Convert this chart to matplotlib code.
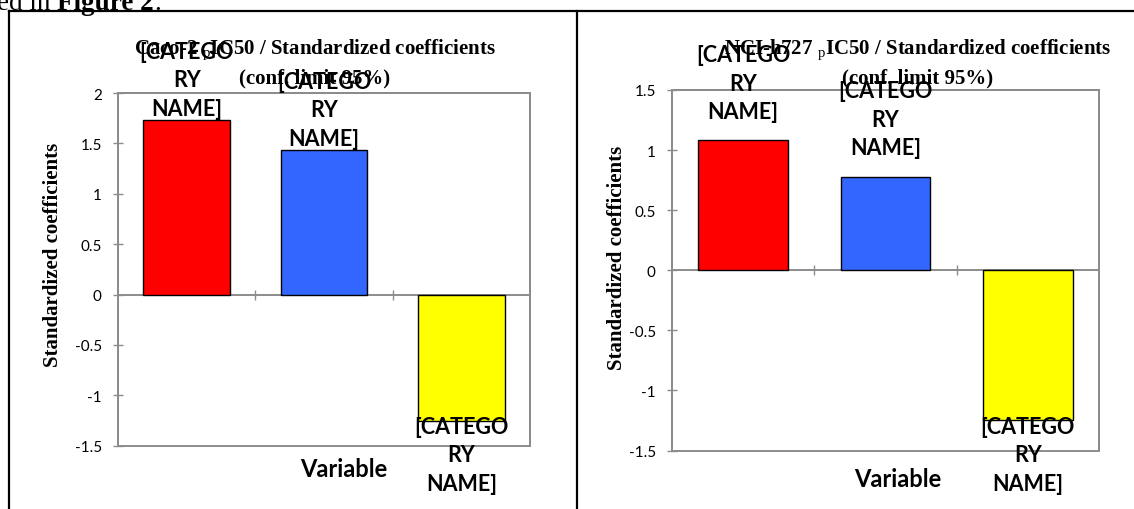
import matplotlib
matplotlib.use("Agg")
import matplotlib.pyplot as plt
from matplotlib.lines import Line2D
from matplotlib.patches import Rectangle
from matplotlib.text import Annotation

# Data
bar_labels = ["[CATEGO\nRY\nNAME]"] * 3
caco2_coef = [1.73, 1.43, -1.25]
nci_coef = [1.08, 0.78, -1.25]
bar_colors = ["#FF0000", "#3366FF", "#FFFF00"]
caco2_ticks = [-1.5, -1, -0.5, 0, 0.5, 1, 1.5, 2]
nci_ticks = [-1.5, -1, -0.5, 0, 0.5, 1, 1.5]

plt.rcParams["mathtext.fontset"] = "custom"
plt.rcParams["mathtext.rm"] = "Liberation Serif"

W, H = 1134, 510
fig = plt.figure(figsize=(W / 100, H / 100), dpi=100)

def fx(px): return px / W
def fy(py): return 1 - py / H

GRAY = "#8C8C8C"
SERIF = "Liberation Serif"
SANS = "Lato"

# page text cut at the top, then the table borders
t1 = fig.text(fx(-3), fy(10), "ed in ", family=SERIF, fontsize=19.5, va="baseline")
t2 = Annotation("Figure 2", xy=(1, 0), xycoords=t1, va="bottom", ha="left",
                family=SERIF, fontsize=19.5, weight="bold", annotation_clip=False)
fig.add_artist(t2)
fig.add_artist(Annotation(".", xy=(1, 0), xycoords=t2, va="bottom", ha="left",
                          family=SERIF, fontsize=19.5, annotation_clip=False))

for xs, ys in [([9, W], [12, 12]), ([9, 9], [12, H]), ([577, 577], [12, H])]:
    fig.add_artist(Line2D([fx(x) for x in xs], [fy(y) for y in ys],
                          color="black", lw=1.6, transform=fig.transFigure))


def draw_panel(rect, values, ylim, yticks, pad_up, title_l1, title_xy, ylab_xy, var_xy):
    ax = fig.add_axes(rect)
    x = range(len(values))
    ax.bar(x, values, width=0.63, color=bar_colors, edgecolor="black", linewidth=1, zorder=3)
    ax.set_xlim(-0.5, 2.5)
    ax.set_ylim(*ylim)
    ax.set_yticks(yticks)
    ax.set_yticklabels([f"{t:g}" for t in yticks], family=SANS, fontsize=11)
    ax.set_xticks([0.5, 1.5])
    ax.set_xticklabels([])
    ax.tick_params(axis="both", direction="inout", length=6.5, width=1, color=GRAY, pad=8.5)
    ax.spines["bottom"].set_position(("data", 0))
    for s in ax.spines.values():
        s.set_color(GRAY)
        s.set_linewidth(1.4)
    ax.add_patch(Rectangle((0, 0), 1, 1, transform=ax.transAxes, fill=False,
                           edgecolor=GRAY, lw=1.4, clip_on=False, zorder=1))

    for i, v in enumerate(values):
        if v >= 0:
            ax.annotate(bar_labels[i], xy=(i, v), xytext=(0, pad_up), textcoords="offset points",
                        ha="center", va="bottom", family=SANS, fontsize=15.5, weight="bold",
                        linespacing=1.45, zorder=5, annotation_clip=False)
        else:
            ax.annotate(bar_labels[i], xy=(i, v), xytext=(0, 3.5), textcoords="offset points",
                        ha="center", va="top", family=SANS, fontsize=15.5, weight="bold",
                        linespacing=1.45, zorder=5, annotation_clip=False)

    fig.text(fx(title_xy[0]), fy(title_xy[1]), title_l1 + "\n(conf. limit 95%)",
             ha="center", va="center", family=SERIF, fontsize=15, weight="bold",
             linespacing=1.35)
    fig.text(fx(ylab_xy[0]), fy(ylab_xy[1]), "Standardized coefficients", rotation=90,
             ha="center", va="center", family=SERIF, fontsize=15, weight="bold")
    fig.text(fx(var_xy[0]), fy(var_xy[1]), "Variable", ha="center", va="center",
             family=SANS, fontsize=17, weight="bold")
    return ax


draw_panel([fx(118), fy(446.7), fx(530 - 118), (446.7 - 94) / H],
           caco2_coef, (-1.5, 2), caco2_ticks, 1,
           r"Caco-2 $_\mathrm{p}$IC50 / Standardized coefficients",
           (315, 63), (53, 255), (344, 470))
draw_panel([fx(672), fy(451.5), fx(1099 - 672), (451.5 - 91) / H],
           nci_coef, (-1.5, 1.5), nci_ticks, 13,
           r"NCI-h727 $_\mathrm{p}$IC50 / Standardized coefficients",
           (918, 63), (617, 258), (898, 480))

fig.savefig("out.png", dpi=100)
